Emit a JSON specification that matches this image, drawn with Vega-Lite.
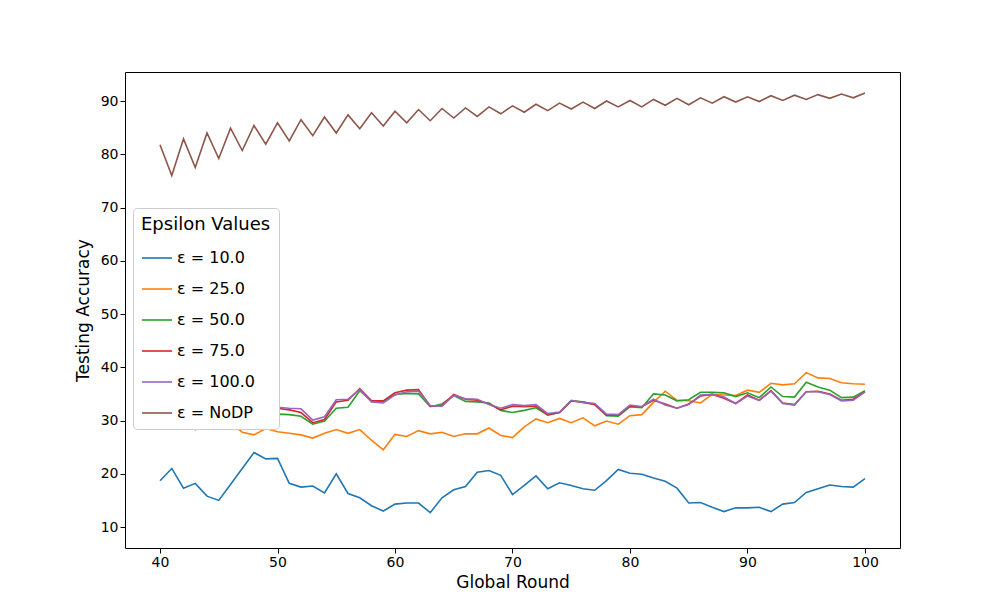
{
  "$schema": "https://vega.github.io/schema/vega-lite/v6.json",
  "width": 775,
  "height": 476,
  "autosize": "none",
  "padding": {"left": 125, "top": 72, "right": 100, "bottom": 52},
  "background": "white",
  "config": {
    "font": "DejaVu Sans",
    "view": {"stroke": "black", "strokeWidth": 1},
    "axis": {"grid": false, "domain": false, "tickColor": "black", "tickSize": 5, "labelFontSize": 14, "labelColor": "black", "titleFontSize": 17, "titleFontWeight": "normal", "titleColor": "black"}
  },
  "data": {
    "values": [
      {"x":40,"e10":18.7,"e25":30.4,"e50":30.3,"e75":30.5,"e100":30.7,"nodp":81.8},
      {"x":41,"e10":21,"e25":30.9,"e50":30.3,"e75":30.5,"e100":30.6,"nodp":76},
      {"x":42,"e10":17.3,"e25":30.9,"e50":30.1,"e75":30.2,"e100":30.4,"nodp":82.9},
      {"x":43,"e10":18.2,"e25":30.1,"e50":28.8,"e75":28.5,"e100":28.3,"nodp":77.5},
      {"x":44,"e10":15.8,"e25":31.8,"e50":31.8,"e75":31.2,"e100":31,"nodp":84},
      {"x":45,"e10":15,"e25":30.3,"e50":33.6,"e75":32.9,"e100":32.6,"nodp":79.2},
      {"x":46,"e10":18,"e25":29.6,"e50":32.5,"e75":32.3,"e100":32,"nodp":84.9},
      {"x":47,"e10":21,"e25":27.8,"e50":31.8,"e75":31.7,"e100":31.6,"nodp":80.7},
      {"x":48,"e10":24,"e25":27.3,"e50":29.1,"e75":29.1,"e100":29.3,"nodp":85.4},
      {"x":49,"e10":22.8,"e25":28.5,"e50":29.8,"e75":30,"e100":30.2,"nodp":81.9},
      {"x":50,"e10":22.9,"e25":27.9,"e50":31.2,"e75":32.3,"e100":32.5,"nodp":85.9},
      {"x":51,"e10":18.2,"e25":27.6,"e50":31.1,"e75":32,"e100":32.3,"nodp":82.5},
      {"x":52,"e10":17.5,"e25":27.3,"e50":30.8,"e75":31.5,"e100":32.2,"nodp":86.5},
      {"x":53,"e10":17.7,"e25":26.7,"e50":29.3,"e75":29.6,"e100":30.1,"nodp":83.5},
      {"x":54,"e10":16.4,"e25":27.6,"e50":29.9,"e75":30.2,"e100":30.7,"nodp":87},
      {"x":55,"e10":20,"e25":28.3,"e50":32.3,"e75":33.5,"e100":33.9,"nodp":84},
      {"x":56,"e10":16.3,"e25":27.6,"e50":32.5,"e75":33.8,"e100":34,"nodp":87.4},
      {"x":57,"e10":15.5,"e25":28.3,"e50":35.6,"e75":36,"e100":35.8,"nodp":84.8},
      {"x":58,"e10":14,"e25":26.3,"e50":33.7,"e75":33.7,"e100":33.5,"nodp":87.8},
      {"x":59,"e10":13,"e25":24.5,"e50":33.6,"e75":33.7,"e100":33.3,"nodp":85.3},
      {"x":60,"e10":14.3,"e25":27.4,"e50":34.9,"e75":35.2,"e100":34.8,"nodp":88.1},
      {"x":61,"e10":14.5,"e25":27,"e50":35.1,"e75":35.7,"e100":35.4,"nodp":85.9},
      {"x":62,"e10":14.5,"e25":28.1,"e50":35,"e75":35.8,"e100":35.5,"nodp":88.4},
      {"x":63,"e10":12.7,"e25":27.5,"e50":32.6,"e75":32.7,"e100":32.8,"nodp":86.3},
      {"x":64,"e10":15.5,"e25":27.8,"e50":33.1,"e75":32.8,"e100":32.7,"nodp":88.6},
      {"x":65,"e10":17,"e25":27,"e50":34.7,"e75":34.9,"e100":34.7,"nodp":86.8},
      {"x":66,"e10":17.6,"e25":27.5,"e50":33.6,"e75":34,"e100":34.1,"nodp":88.7},
      {"x":67,"e10":20.3,"e25":27.5,"e50":33.5,"e75":33.8,"e100":34,"nodp":87.1},
      {"x":68,"e10":20.6,"e25":28.6,"e50":33.3,"e75":33.1,"e100":33,"nodp":88.9},
      {"x":69,"e10":19.7,"e25":27.2,"e50":31.9,"e75":32,"e100":32.3,"nodp":87.6},
      {"x":70,"e10":16.1,"e25":26.8,"e50":31.5,"e75":32.7,"e100":33,"nodp":89.1},
      {"x":71,"e10":17.8,"e25":28.8,"e50":31.9,"e75":32.6,"e100":32.8,"nodp":87.9},
      {"x":72,"e10":19.6,"e25":30.3,"e50":32.4,"e75":32.7,"e100":33,"nodp":89.4},
      {"x":73,"e10":17.2,"e25":29.6,"e50":31,"e75":31.1,"e100":31.3,"nodp":88.2},
      {"x":74,"e10":18.3,"e25":30.4,"e50":31.5,"e75":31.5,"e100":31.6,"nodp":89.6},
      {"x":75,"e10":17.8,"e25":29.6,"e50":33.7,"e75":33.7,"e100":33.8,"nodp":88.5},
      {"x":76,"e10":17.2,"e25":30.5,"e50":33.5,"e75":33.4,"e100":33.4,"nodp":89.8},
      {"x":77,"e10":16.9,"e25":29,"e50":33,"e75":33,"e100":33.2,"nodp":88.6},
      {"x":78,"e10":18.7,"e25":29.9,"e50":30.9,"e75":31,"e100":31.2,"nodp":90},
      {"x":79,"e10":20.8,"e25":29.3,"e50":30.8,"e75":31,"e100":31.1,"nodp":88.9},
      {"x":80,"e10":20.1,"e25":30.9,"e50":32.6,"e75":32.7,"e100":32.9,"nodp":90.1},
      {"x":81,"e10":19.9,"e25":31.1,"e50":32.4,"e75":32.6,"e100":32.6,"nodp":88.9},
      {"x":82,"e10":19.2,"e25":33.4,"e50":35,"e75":33.8,"e100":34,"nodp":90.3},
      {"x":83,"e10":18.6,"e25":35.5,"e50":34.8,"e75":33.1,"e100":32.9,"nodp":89.2},
      {"x":84,"e10":17.3,"e25":33.8,"e50":33.7,"e75":32.3,"e100":32.3,"nodp":90.5},
      {"x":85,"e10":14.5,"e25":33.7,"e50":33.9,"e75":33.1,"e100":33,"nodp":89.3},
      {"x":86,"e10":14.6,"e25":33.3,"e50":35.3,"e75":34.6,"e100":34.8,"nodp":90.6},
      {"x":87,"e10":13.7,"e25":34.9,"e50":35.3,"e75":34.9,"e100":34.9,"nodp":89.6},
      {"x":88,"e10":12.9,"e25":34.8,"e50":35.2,"e75":34.2,"e100":34.4,"nodp":90.8},
      {"x":89,"e10":13.6,"e25":34.7,"e50":34.5,"e75":33.2,"e100":33.2,"nodp":89.8},
      {"x":90,"e10":13.6,"e25":35.7,"e50":35.2,"e75":34.8,"e100":34.6,"nodp":90.8},
      {"x":91,"e10":13.7,"e25":35.3,"e50":34.3,"e75":33.8,"e100":33.8,"nodp":89.9},
      {"x":92,"e10":12.9,"e25":37,"e50":36.3,"e75":35.6,"e100":35.5,"nodp":91},
      {"x":93,"e10":14.3,"e25":36.7,"e50":34.5,"e75":33.3,"e100":33.2,"nodp":90.1},
      {"x":94,"e10":14.6,"e25":36.9,"e50":34.4,"e75":33,"e100":32.9,"nodp":91.1},
      {"x":95,"e10":16.5,"e25":39,"e50":37.2,"e75":35.4,"e100":35.4,"nodp":90.3},
      {"x":96,"e10":17.2,"e25":38,"e50":36.3,"e75":35.5,"e100":35.4,"nodp":91.2},
      {"x":97,"e10":17.9,"e25":37.9,"e50":35.7,"e75":35,"e100":34.9,"nodp":90.5},
      {"x":98,"e10":17.6,"e25":37.1,"e50":34.3,"e75":33.8,"e100":33.7,"nodp":91.3},
      {"x":99,"e10":17.5,"e25":36.9,"e50":34.4,"e75":34,"e100":33.8,"nodp":90.6},
      {"x":100,"e10":19.1,"e25":36.8,"e50":35.6,"e75":35.4,"e100":35.4,"nodp":91.5}
    ]
  },
  "transform": [
    {"fold": ["e10", "e25", "e50", "e75", "e100", "nodp"], "as": ["series", "acc"]}
  ],
  "mark": {"type": "line", "strokeWidth": 1.6, "clip": true},
  "encoding": {
    "x": {"field": "x", "type": "quantitative", "title": "Global Round", "scale": {"domain": [37.02, 102.98], "nice": false, "zero": false}, "axis": {"values": [40, 50, 60, 70, 80, 90, 100], "titlePadding": 5}},
    "y": {"field": "acc", "type": "quantitative", "title": "Testing Accuracy", "scale": {"domain": [6.06, 95.45], "nice": false, "zero": false}, "axis": {"values": [10, 20, 30, 40, 50, 60, 70, 80, 90], "titlePadding": 8}},
    "color": {
      "field": "series", "type": "nominal",
      "scale": {"domain": ["e10", "e25", "e50", "e75", "e100", "nodp"], "range": ["#1f77b4", "#ff7f0e", "#2ca02c", "#d62728", "#9467bd", "#8c564b"]},
      "legend": {
        "title": "Epsilon Values",
        "orient": "none", "legendX": 8, "legendY": 136,
        "titleFontSize": 18, "titleFontWeight": "normal", "titleColor": "black", "titlePadding": 8,
        "labelFontSize": 16, "labelColor": "black",
        "symbolType": "stroke", "symbolSize": 900, "symbolStrokeWidth": 1.6,
        "rowPadding": 7, "padding": 8, "strokeColor": "#cccccc", "fillColor": "white", "cornerRadius": 4,
        "labelExpr": "{'e10':'ε = 10.0','e25':'ε = 25.0','e50':'ε = 50.0','e75':'ε = 75.0','e100':'ε = 100.0','nodp':'ε = NoDP'}[datum.value]"
      }
    }
  }
}
